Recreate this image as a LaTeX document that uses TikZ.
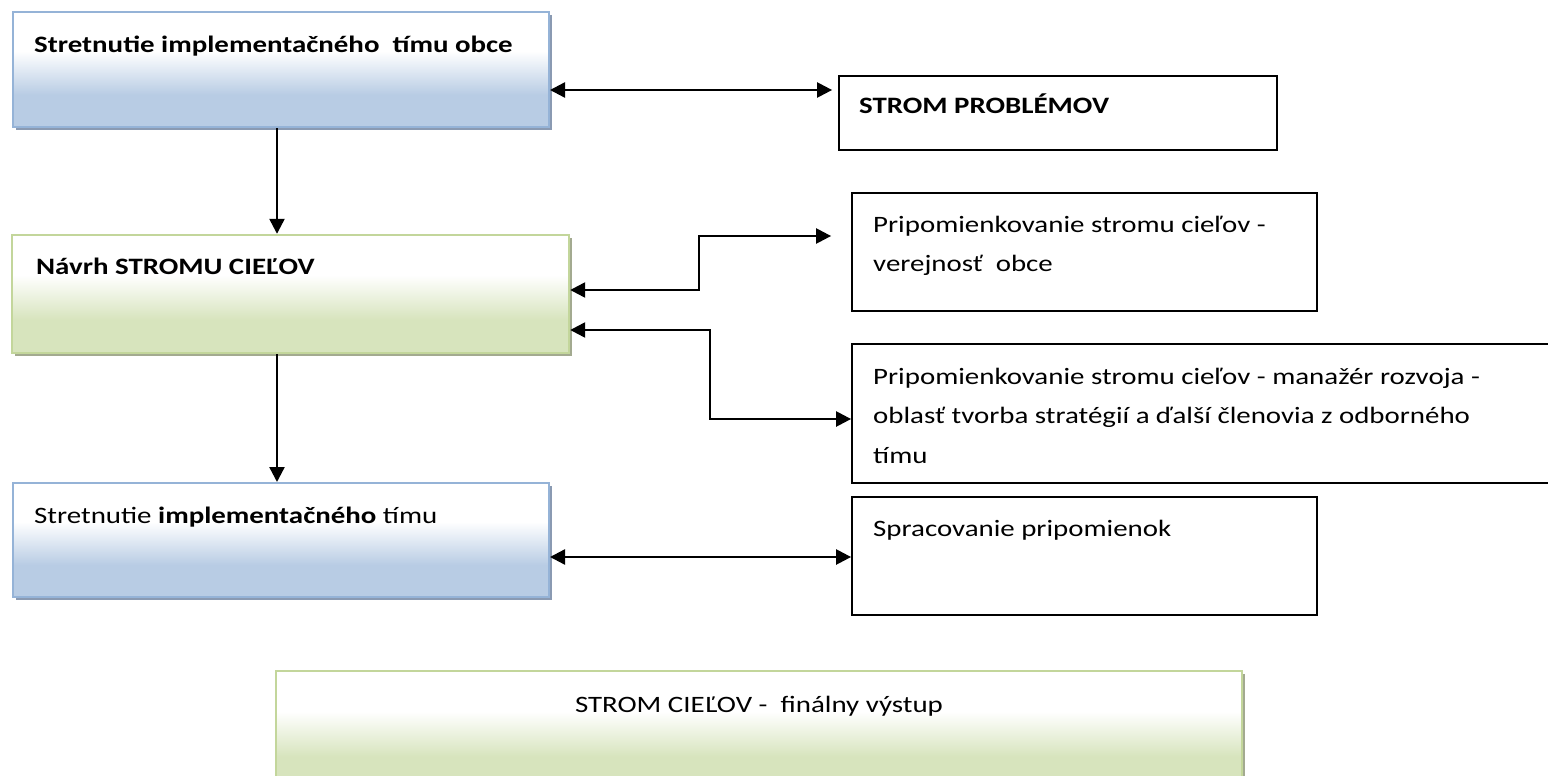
\documentclass[tikz,border=0pt]{standalone}
\usepackage{fontspec}
\setmainfont{Carlito}[FakeStretch=1.23]
\usetikzlibrary{arrows.meta,calc,shadows}

\definecolor{bluebot}{HTML}{B8CCE4}
\definecolor{blueedge}{HTML}{95B3D7}
\definecolor{blueshadow}{HTML}{8A9AB2}
\definecolor{greenbot}{HTML}{D7E4BD}
\definecolor{greenedge}{HTML}{C3D69B}
\definecolor{greenshadow}{HTML}{A3AA90}

% white at the top, fading into the box colour towards the bottom
\pgfdeclareverticalshading{bluegrad}{100bp}{color(0bp)=(bluebot); color(39bp)=(bluebot); color(58bp)=(white); color(100bp)=(white)}
\pgfdeclareverticalshading{greengrad}{100bp}{color(0bp)=(greenbot); color(39bp)=(greenbot); color(58bp)=(white); color(100bp)=(white)}

\tikzset{
  bluebox/.style={draw=blueedge, line width=2pt, shading=bluegrad, inner sep=0pt,
    general shadow={fill=blueshadow, shadow xshift=3pt, shadow yshift=-3pt}},
  greenbox/.style={draw=greenedge, line width=2.4pt, shading=greengrad, inner sep=0pt,
    general shadow={fill=greenshadow, shadow xshift=3pt, shadow yshift=-3pt}},
  plainbox/.style={draw=black, line width=1.8pt, fill=white, inner sep=0pt},
  txt/.style={anchor=north west, inner sep=0pt, align=left,
    font=\fontsize{23.5}{39.5}\selectfont},
  tip/.tip={Triangle[length=15pt,width=15pt]},
  arr/.style={line width=2.4pt, -tip},
  dbl/.style={line width=2.4pt, tip-tip}
}
\newcommand{\firstline}{\rule{0pt}{30pt}}

\begin{document}
\begin{tikzpicture}[x=1pt,y=-1pt]
\clip (0,0) rectangle (1548,776);
\fill[white] (0,0) rectangle (1548,776);

% process boxes on the left
\node[bluebox, minimum width=536pt, minimum height=115pt] (A) at (281,69.5) {};
\node[greenbox, minimum width=557pt, minimum height=118pt] (B) at (290.5,294) {};
\node[bluebox, minimum width=536pt, minimum height=114pt] (D) at (281,540) {};
\node[greenbox, minimum width=966pt, minimum height=119pt] (F) at (759,730.5) {};

% boxes on the right
\node[plainbox, minimum width=438pt, minimum height=74pt] (P) at (1058,113) {};
\node[plainbox, minimum width=465pt, minimum height=118pt] (V) at (1084.5,252) {};
\node[plainbox, minimum width=718pt, minimum height=139pt] (C) at (1211,413.5) {};
\node[plainbox, minimum width=465pt, minimum height=118pt] (S) at (1084.5,556) {};

% texts
\node[txt] (tA) at (34,22) {\firstline\bfseries Stretnutie implementačného~ tímu obce};
\node[txt] (tB) at (36,244) {\firstline\bfseries Návrh STROMU CIEĽOV};
\node[txt] (tD) at (34,493) {\firstline Stretnutie \textbf{implementačného} tímu};
\node[txt, anchor=north, align=center] (tF) at (759,682) {\firstline STROM CIEĽOV -~ finálny výstup};
\node[txt] (tP) at (859,83) {\firstline\bfseries STROM PROBLÉMOV};
\node[txt] (tV) at (873,202) {\firstline Pripomienkovanie stromu cieľov -\\verejnosť~ obce};
\node[txt] (tC) at (873,354) {\firstline Pripomienkovanie stromu cieľov - manažér rozvoja -\\oblasť tvorba stratégií a ďalší členovia z odborného\\tímu};
\node[txt] (tS) at (873,506) {\firstline Spracovanie pripomienok};

% connectors
\draw[arr] (A.south -| 277,0) -- (B.north -| 277,0);
\draw[arr] (B.south -| 277,0) -- (D.north -| 277,0);
\draw[dbl] (A.east |- 0,90) -- ($(P.west |- 0,90)+(-6,0)$);
\draw[dbl] (B.east |- 0,290) -- (699,290) -- (699,236) -- ($(V.west |- 0,236)+(-20,0)$);
\draw[dbl] (B.east |- 0,330) -- (710,330) -- (710,419) -- (C.west |- 0,419);
\draw[dbl] (D.east |- 0,557) -- (S.west |- 0,557);
\end{tikzpicture}
\end{document}
